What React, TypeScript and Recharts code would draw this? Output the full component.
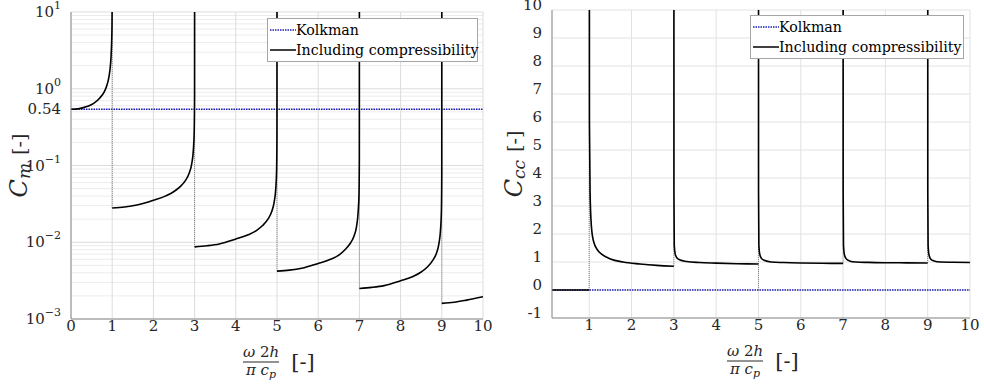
import React from 'react';
import {
  LineChart,
  Line,
  XAxis,
  YAxis,
  CartesianGrid,
  Legend,
  ReferenceArea
} from 'recharts';

// ---- left panel: C_m (log scale) ----
const kolkmanCmX = [0, 10];
const kolkmanCmY = [0.54, 0.54];

const cmBranch0X = [0, 0.2, 0.4, 0.55, 0.7, 0.8, 0.87, 0.92, 0.95, 0.97, 0.985, 0.995, 0.999, 1.0];
const cmBranch0Y = [0.54, 0.551, 0.59, 0.645, 0.76, 0.9, 1.1, 1.42, 1.85, 2.5, 3.8, 6.5, 12, 30];

const cmBranch1X = [1, 1.3, 1.6, 2.0, 2.3, 2.5, 2.65, 2.78, 2.87, 2.93, 2.97, 2.99, 2.999, 3.0];
const cmBranch1Y = [0.028, 0.0288, 0.0305, 0.0352, 0.0402, 0.0458, 0.053, 0.064, 0.08, 0.105, 0.16, 0.27, 0.8, 30];

const cmBranch2X = [3, 3.3, 3.6, 4.0, 4.3, 4.5, 4.65, 4.78, 4.87, 4.93, 4.97, 4.99, 4.999, 5.0];
const cmBranch2Y = [0.0087, 0.009, 0.0095, 0.011, 0.0125, 0.0142, 0.0165, 0.02, 0.025, 0.033, 0.05, 0.085, 0.26, 30];

const cmBranch3X = [5, 5.3, 5.6, 6.0, 6.3, 6.5, 6.65, 6.78, 6.87, 6.93, 6.97, 6.99, 6.999, 7.0];
const cmBranch3Y = [0.0042, 0.00433, 0.00458, 0.0053, 0.006, 0.0068, 0.008, 0.0097, 0.0121, 0.016, 0.025, 0.042, 0.13, 30];

const cmBranch4X = [7, 7.3, 7.6, 8.0, 8.3, 8.5, 8.65, 8.78, 8.87, 8.93, 8.97, 8.99, 8.999, 9.0];
const cmBranch4Y = [0.0025, 0.00258, 0.00272, 0.00315, 0.00358, 0.0041, 0.00475, 0.0058, 0.0072, 0.0096, 0.0148, 0.025, 0.075, 30];

const cmBranch5X = [9, 9.3, 9.6, 10];
const cmBranch5Y = [0.0016, 0.00165, 0.00176, 0.00195];

const cmJumpX = [1, 3, 5, 7, 9];
const cmJumpLow = [0.028, 0.0087, 0.0042, 0.0025, 0.0016];
const cmJumpHigh = [30, 30, 30, 30, 30];

const cmXTicks = [0, 1, 2, 3, 4, 5, 6, 7, 8, 9, 10];
const cmYTicks = [0.001, 0.01, 0.1, 0.54, 1, 10];
const cmMinorTicks = [
  0.002, 0.003, 0.004, 0.005, 0.006, 0.007, 0.008, 0.009,
  0.02, 0.03, 0.04, 0.05, 0.06, 0.07, 0.08, 0.09,
  0.2, 0.3, 0.4, 0.5, 0.6, 0.7, 0.8, 0.9,
  2, 3, 4, 5, 6, 7, 8, 9
];

// ---- right panel: C_cc (linear) ----
const kolkmanCcX = [0.12, 10];
const kolkmanCcY = [0, 0];

const ccBranch0X = [0.12, 1];
const ccBranch0Y = [0, 0];

const ccBranch1X = [1.0, 1.005, 1.02, 1.05, 1.1, 1.2, 1.3, 1.5, 1.8, 2.2, 2.6, 3.0];
const ccBranch1Y = [30, 6, 3.5, 2.3, 1.75, 1.42, 1.27, 1.11, 1.0, 0.93, 0.88, 0.85];

const ccBranch2X = [3.0, 3.002, 3.01, 3.03, 3.07, 3.15, 3.3, 3.6, 4.0, 4.5, 5.0];
const ccBranch2Y = [30, 3.5, 1.6, 1.3, 1.15, 1.07, 1.02, 0.98, 0.96, 0.94, 0.93];

const ccBranch3X = [5.0, 5.002, 5.01, 5.03, 5.07, 5.15, 5.3, 5.6, 6.0, 6.5, 7.0];
const ccBranch3Y = [30, 3.5, 1.6, 1.28, 1.13, 1.05, 1.0, 0.98, 0.965, 0.955, 0.95];

const ccBranch4X = [7.0, 7.002, 7.01, 7.03, 7.07, 7.15, 7.3, 7.6, 8.0, 8.5, 9.0];
const ccBranch4Y = [30, 3.5, 1.6, 1.27, 1.12, 1.04, 1.0, 0.985, 0.975, 0.97, 0.965];

const ccBranch5X = [9.0, 9.002, 9.01, 9.03, 9.07, 9.15, 9.3, 9.6, 10];
const ccBranch5Y = [30, 3.5, 1.6, 1.26, 1.11, 1.04, 1.0, 0.99, 0.98];

const ccJumpX = [1, 3, 5, 7, 9];
const ccJumpLow = [0, 0.85, 0, 0.95, 0.965];
const ccJumpHigh = [30, 30, 30, 30, 30];

const ccXTicks = [1, 2, 3, 4, 5, 6, 7, 8, 9, 10];
const ccYTicks = [-1, 0, 1, 2, 3, 4, 5, 6, 7, 8, 9, 10];

const legendNames = ['Kolkman', 'Including compressibility'];

const FONT = '"DejaVu Serif", "Liberation Serif", serif';
const TEXT = '#262626';
const AXIS = '#8c8c8c';
const BLUE = '#1f1fb4';

const toRows = (xs: number[], ys: number[]) => xs.map((x, i) => ({ x, y: ys[i] }));

// vertical dotted connectors, broken apart with nulls
const toJumps = (xs: number[], lo: number[], hi: number[]) =>
  xs.flatMap((x, i) => [
    { x, y: lo[i] },
    { x, y: hi[i] },
    { x, y: null as number | null }
  ]);

const cmBranches = [
  toRows(cmBranch0X, cmBranch0Y),
  toRows(cmBranch1X, cmBranch1Y),
  toRows(cmBranch2X, cmBranch2Y),
  toRows(cmBranch3X, cmBranch3Y),
  toRows(cmBranch4X, cmBranch4Y),
  toRows(cmBranch5X, cmBranch5Y)
];
const ccBranches = [
  toRows(ccBranch0X, ccBranch0Y),
  toRows(ccBranch1X, ccBranch1Y),
  toRows(ccBranch2X, ccBranch2Y),
  toRows(ccBranch3X, ccBranch3Y),
  toRows(ccBranch4X, ccBranch4Y),
  toRows(ccBranch5X, ccBranch5Y)
];

const LogTick = (props: any) => {
  const { x, y, payload } = props;
  const v = payload.value as number;
  if (v === 0.54) {
    return (
      <text x={x} y={y} dy={5} textAnchor="end" style={{ fontFamily: FONT }} fontSize={15} fill={TEXT}>
        0.54
      </text>
    );
  }
  const exp = Math.round(Math.log10(v));
  const expText = exp < 0 ? `\u2212${-exp}` : `${exp}`;
  return (
    <text x={x} y={y} dy={5} textAnchor="end" style={{ fontFamily: FONT }} fontSize={15} fill={TEXT}>
      <tspan>10</tspan>
      <tspan dy={-8} fontSize={11}>{expText}</tspan>
    </text>
  );
};

const PlainTick = (props: any) => {
  const { x, y, payload, textAnchor, dy } = props;
  return (
    <text x={x} y={y} dy={dy} textAnchor={textAnchor} style={{ fontFamily: FONT }} fontSize={15} fill={TEXT}>
      {payload.value}
    </text>
  );
};

// ω 2h / (π c_p)  [-]
const FracLabel = (props: any) => {
  const vb = props.viewBox || { x: 0, y: 0, width: 0 };
  const cx = vb.x + vb.width / 2;
  const fx = cx - 16;
  const y0 = vb.y;
  return (
    <g style={{ fontFamily: FONT }} fill={TEXT}>
      <text x={fx} y={y0 + 38} textAnchor="middle" fontSize={15}>
        <tspan fontStyle="italic">ω</tspan>
        <tspan> 2</tspan>
        <tspan fontStyle="italic">h</tspan>
      </text>
      <line x1={fx - 18} x2={fx + 18} y1={y0 + 43} y2={y0 + 43} stroke={TEXT} strokeWidth={1} />
      <text x={fx} y={y0 + 56} textAnchor="middle" fontSize={15}>
        <tspan fontStyle="italic">π c</tspan>
        <tspan fontStyle="italic" fontSize={11} dy={3}>p</tspan>
      </text>
      <text x={cx + 26} y={y0 + 50} textAnchor="middle" fontSize={21}>[-]</text>
    </g>
  );
};

const YLabel = (props: any) => {
  const { viewBox, sub, gap } = props;
  const vb = viewBox || { x: 0, y: 0, width: 0, height: 0 };
  const cx = vb.x + vb.width - gap;
  const cy = vb.y + vb.height / 2;
  return (
    <text
      x={cx}
      y={cy}
      transform={`rotate(-90, ${cx}, ${cy})`}
      textAnchor="middle"
      dominantBaseline="central"
      style={{ fontFamily: FONT }}
      fill={TEXT}
    >
      <tspan fontStyle="italic" fontSize={24}>C</tspan>
      <tspan fontStyle="italic" fontSize={17} dy={5}>{sub}</tspan>
      <tspan fontSize={19} dy={-5} dx={8}>[-]</tspan>
    </text>
  );
};

const LegendBox = () => (
  <div
    style={{
      border: '1px solid #a6a6a6',
      background: '#fff',
      fontFamily: FONT,
      fontSize: 14.2,
      lineHeight: '20px',
      color: '#000',
      padding: '1px 0 1px 1px',
      boxSizing: 'border-box',
      whiteSpace: 'nowrap'
    }}
  >
    {legendNames.map((name, i) => (
      <div key={name} style={{ display: 'flex', alignItems: 'center' }}>
        <svg width={27} height={20} style={{ flex: 'none' }}>
          <line
            x1={1}
            x2={27}
            y1={10}
            y2={10}
            stroke={i === 0 ? BLUE : '#000'}
            strokeWidth={1.5}
            strokeDasharray={i === 0 ? '1.5 1' : undefined}
          />
        </svg>
        <span>{name}</span>
      </div>
    ))}
  </div>
);

const CmChart = () => (
  <LineChart width={500} height={386} margin={{ top: 12, right: 17, bottom: 37, left: 11 }}>
    <CartesianGrid horizontalValues={cmMinorTicks} vertical={false} stroke="#ececec" />
    <CartesianGrid stroke="#dcdcdc" />
    <XAxis
      type="number"
      dataKey="x"
      domain={[0, 10]}
      ticks={cmXTicks}
      interval={0}
      allowDataOverflow
      height={30}
      tickLine={false}
      axisLine={{ stroke: AXIS }}
      tick={<PlainTick />}
      tickMargin={6}
      label={<FracLabel />}
    />
    <YAxis
      type="number"
      dataKey="y"
      scale="log"
      domain={[0.001, 10]}
      ticks={cmYTicks}
      interval={0}
      allowDataOverflow
      width={60}
      tickLine={false}
      axisLine={{ stroke: AXIS }}
      tick={<LogTick />}
      tickMargin={4}
      label={<YLabel sub="m" gap={52} />}
    />
    <ReferenceArea fill="none" stroke={AXIS} strokeOpacity={0.7} ifOverflow="visible" />
    <Line
      data={toRows(kolkmanCmX, kolkmanCmY)}
      dataKey="y"
      name="Kolkman"
      stroke={BLUE}
      strokeWidth={1.6}
      strokeDasharray="1.5 1"
      dot={false}
      isAnimationActive={false}
    />
    <Line
      data={toJumps(cmJumpX, cmJumpLow, cmJumpHigh)}
      dataKey="y"
      name="jumps"
      stroke="#666"
      strokeWidth={0.8}
      strokeDasharray="1 1"
      dot={false}
      connectNulls={false}
      legendType="none"
      isAnimationActive={false}
    />
    {cmBranches.map((rows, i) => (
      <Line
        key={`cm${i}`}
        data={rows}
        dataKey="y"
        name={i === 0 ? 'Including compressibility' : `cm${i}`}
        type="monotone"
        stroke="#000"
        strokeWidth={1.6}
        dot={false}
        legendType={i === 0 ? 'line' : 'none'}
        isAnimationActive={false}
      />
    ))}
    <Legend
      layout="vertical"
      align="center"
      verticalAlign="middle"
      content={<LegendBox />}
      wrapperStyle={{ left: 267, top: 18, width: 211, height: 43 }}
    />
  </LineChart>
);

const CcChart = () => (
  <LineChart width={494} height={386} margin={{ top: 10, right: 14, bottom: 38, left: 12 }}>
    <CartesianGrid stroke="#e2e2e2" />
    <XAxis
      type="number"
      dataKey="x"
      domain={[0.12, 10]}
      ticks={ccXTicks}
      interval={0}
      allowDataOverflow
      height={30}
      tickLine={false}
      axisLine={{ stroke: AXIS }}
      tick={<PlainTick />}
      tickMargin={6}
      label={<FracLabel />}
    />
    <YAxis
      type="number"
      dataKey="y"
      domain={[-1, 10]}
      ticks={ccYTicks}
      interval={0}
      allowDataOverflow
      width={50}
      tickLine={false}
      axisLine={{ stroke: AXIS }}
      tick={<PlainTick />}
      tickMargin={4}
      label={<YLabel sub="cc" gap={38} />}
    />
    <ReferenceArea fill="none" stroke={AXIS} strokeOpacity={0.7} ifOverflow="visible" />
    <Line
      data={toRows(kolkmanCcX, kolkmanCcY)}
      dataKey="y"
      name="Kolkman"
      stroke={BLUE}
      strokeWidth={1.6}
      strokeDasharray="1.5 1"
      dot={false}
      isAnimationActive={false}
    />
    <Line
      data={toJumps(ccJumpX, ccJumpLow, ccJumpHigh)}
      dataKey="y"
      name="jumps"
      stroke="#666"
      strokeWidth={0.8}
      strokeDasharray="1 1"
      dot={false}
      connectNulls={false}
      legendType="none"
      isAnimationActive={false}
    />
    {ccBranches.map((rows, i) => (
      <Line
        key={`cc${i}`}
        data={rows}
        dataKey="y"
        name={i === 0 ? 'Including compressibility' : `cc${i}`}
        type="monotone"
        stroke="#000"
        strokeWidth={1.6}
        dot={false}
        legendType={i === 0 ? 'line' : 'none'}
        isAnimationActive={false}
      />
    ))}
    <Legend
      layout="vertical"
      align="center"
      verticalAlign="middle"
      content={<LegendBox />}
      wrapperStyle={{ left: 260, top: 15, width: 214, height: 46 }}
    />
  </LineChart>
);

export default function App() {
  return (
    <div style={{ position: 'absolute', left: 0, top: 0, width: 984, height: 386, background: '#fff', fontFamily: FONT }}>
      <div style={{ position: 'absolute', left: 0, top: 0 }}>
        <CmChart />
      </div>
      <div style={{ position: 'absolute', left: 490, top: 0 }}>
        <CcChart />
      </div>
    </div>
  );
}
